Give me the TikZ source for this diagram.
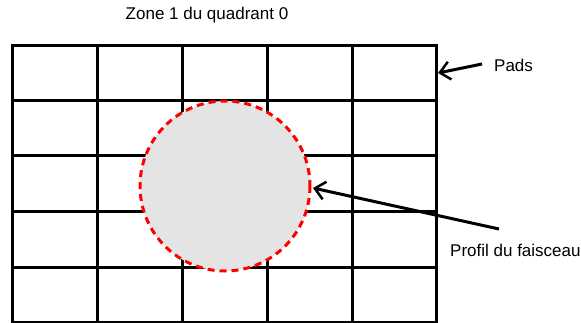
\documentclass[tikz,border=0pt]{standalone}
\usepackage{fontspec}
\setmainfont{Liberation Sans}
\usetikzlibrary{arrows.meta}
\definecolor{beamgray}{HTML}{E4E4E4}
\definecolor{beamred}{HTML}{FF0000}
\tikzset{
  gridline/.style={line width=3pt, line cap=rect},
  beam/.style={fill=beamgray, draw=beamred, line width=3pt, dash pattern=on 7pt off 5pt},
  label/.style={font=\fontsize{17}{20}\selectfont, inner sep=0pt},
  pointer/.style={line width=3pt, -{Straight Barb[length=10pt, width=18pt, line width=2.5pt]}},
}
\begin{document}
\begin{tikzpicture}[x=1pt, y=-1pt]
\useasboundingbox (0,0) rectangle (581,323);
% grid of pads
\foreach \x in {12,97,182,267,352,436} \draw[gridline] (\x,46) -- (\x,322);
\foreach \y in {46,101,156,212,267,322} \draw[gridline] (12,\y) -- (436,\y);
% beam profile
\draw[beam] (225,186) circle[radius=85];
% labels
\node[label, anchor=base] (title) at (207,20) {Zone 1 du quadrant 0};
\node[label, anchor=base west] (pads) at (494,72) {Pads};
\node[label, anchor=base west] (profil) at (450,257) {Profil du faisceau};
\coordinate (padtip) at (438,73);
\coordinate (padtail) at (482,64);
\coordinate (beamtip) at (313,188);
\coordinate (beamtail) at (499,229);
\draw[pointer] (padtail) -- (padtip);
\draw[pointer] (beamtail) -- (beamtip);
\end{tikzpicture}
\end{document}
